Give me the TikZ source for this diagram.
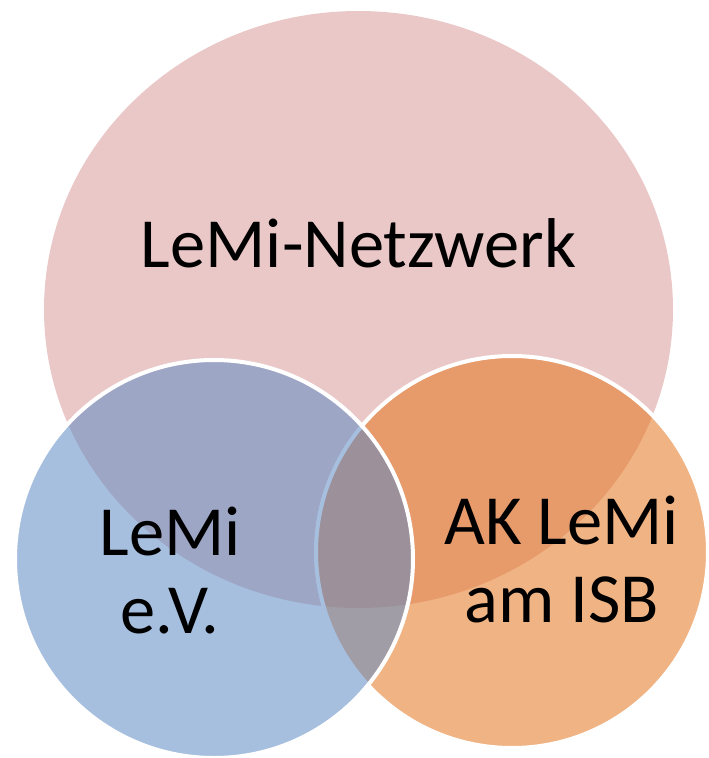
\documentclass[tikz,border=0pt]{standalone}
\usepackage{fontspec}
\setmainfont{Carlito}
\definecolor{pinkc}{RGB}{235,200,200}
\definecolor{orangec}{RGB}{228,117,30}
\definecolor{bluec}{RGB}{95,139,197}
\tikzset{
  venn/.style={draw=white, line width=4pt, fill opacity=0.55, draw opacity=1},
  lbl/.style={font=\fontsize{70.5}{77.5}\selectfont, text=black, align=center, anchor=base, inner sep=0pt}
}
\begin{document}
\begin{tikzpicture}[x=1pt,y=-1pt]
\useasboundingbox (0,0) rectangle (709,758);
\fill[pinkc] (358.5,309.5) ellipse [x radius=314.5, y radius=298.5];
\draw[venn, fill=orangec] (512,552) circle [radius=196];
\draw[venn, fill=bluec] (214,559) circle [radius=199];
\node[lbl] (net) at (358.5,267) {LeMi-Netzwerk};
\node[lbl] (ev) at (170,633) {LeMi\\e.V.};
\node[lbl] (ak) at (561.5,622) {AK LeMi\\am ISB};
\end{tikzpicture}
\end{document}
